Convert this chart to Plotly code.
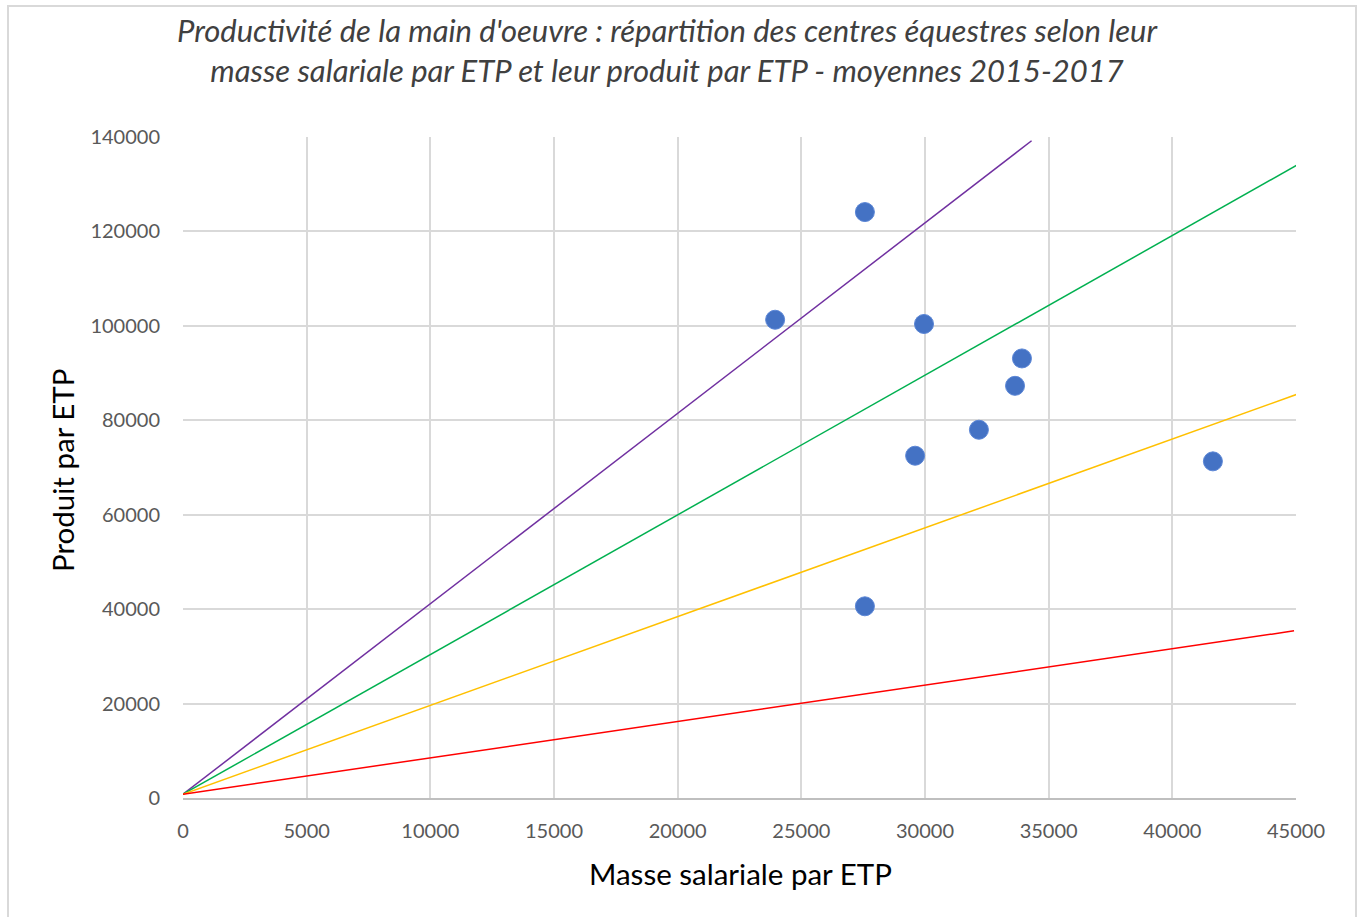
import plotly.graph_objects as go

# Centres équestres : masse salariale par ETP et produit par ETP
masse_salariale = [27570, 23940, 29960, 33920, 33640, 32180, 29600, 41640, 27570]
produit = [124100, 101300, 100400, 93100, 87300, 78000, 72500, 71300, 40600]

# Droites de référence (origine et extrémité)
ref_names = ["violet", "vert", "jaune", "rouge"]
ref_x0 = [0, 0, 0, 0]
ref_y0 = [800, 800, 800, 800]
ref_x1 = [34310, 45160, 45090, 44920]
ref_y1 = [139200, 134400, 85600, 35400]
ref_colors = ["#7030A0", "#00B050", "#FFC000", "#FF0000"]

x_ticks = list(range(0, 45001, 5000))
y_ticks = list(range(0, 140001, 20000))

FONT = "Lato"
GRID = "#d9d9d9"

fig = go.Figure()

for name, xa, ya, xb, yb, c in zip(ref_names, ref_x0, ref_y0, ref_x1, ref_y1, ref_colors):
    fig.add_trace(go.Scatter(x=[xa, xb], y=[ya, yb], mode="lines", name=name,
                             line=dict(color=c, width=1.5), hoverinfo="skip"))

fig.add_trace(go.Scatter(
    x=masse_salariale, y=produit, mode="markers", name="centres",
    marker=dict(size=19, color="#4472C4", line=dict(color="#5b86d6", width=1)),
))

fig.update_layout(
    width=1362, height=917,
    margin=dict(l=183, r=66, t=137, b=119),
    paper_bgcolor="white", plot_bgcolor="white",
    showlegend=False,
    font=dict(family=FONT, color="#595959"),
)

fig.update_xaxes(
    range=[0, 45000], tickvals=x_ticks, ticktext=[str(v) for v in x_ticks],
    showgrid=True, gridcolor=GRID, gridwidth=2,
    zeroline=False, showline=True, linecolor="#bfbfbf", linewidth=2,
    tickfont=dict(size=20, color="#595959", family=FONT),
    ticks="", ticklabelstandoff=14,
)
fig.update_yaxes(
    range=[0, 140000], tickvals=y_ticks, ticktext=[str(v) for v in y_ticks],
    showgrid=True, gridcolor=GRID, gridwidth=2,
    zeroline=False, showline=False,
    tickfont=dict(size=20, color="#595959", family=FONT),
    ticks="", ticklabelstandoff=22,
)

annotations = [
    dict(text="<i>Productivité de la main d'oeuvre : répartition des centres équestres selon leur<br>"
              "masse salariale par ETP et leur produit par ETP - moyennes 2015-2017</i>",
         x=667, y=50, xref="paper", yref="paper", showarrow=False,
         font=dict(size=31, color="#404040", family=FONT), align="center"),
    dict(text="Masse salariale par ETP", x=740, y=873, showarrow=False,
         font=dict(size=29.5, color="#000000", family=FONT)),
    dict(text="Produit par ETP", x=62, y=470, showarrow=False, textangle=-90,
         font=dict(size=29.5, color="#000000", family=FONT)),
]

# Convert pixel positions to paper coordinates
pw, ph = 1362 - 183 - 66, 917 - 137 - 119
for a in annotations:
    a["x"] = (a["x"] - 183) / pw
    a["y"] = (917 - 119 - a["y"]) / ph
    a["xref"] = "paper"
    a["yref"] = "paper"
    a["xanchor"] = "center"
    a["yanchor"] = "middle"
fig.update_layout(annotations=annotations)

# Cadre extérieur du graphique
fig.add_shape(type="rect", xref="paper", yref="paper",
              x0=(8 - 183) / pw, x1=(1356 - 183) / pw,
              y0=(798 - 930) / ph, y1=(798 - 6) / ph,
              line=dict(color="#d9d9d9", width=2), layer="below")

fig.write_html("out.html")
